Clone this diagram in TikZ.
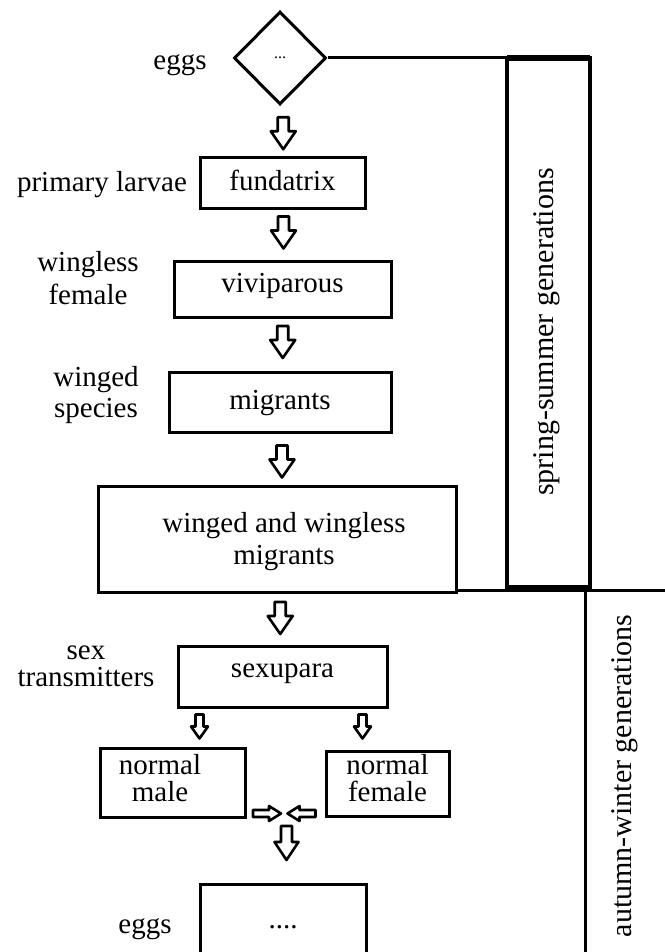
\documentclass[tikz,border=0pt]{standalone}
\usepackage{fontspec}
\setmainfont{Liberation Serif}
\usetikzlibrary{shapes.geometric,calc}
\begin{document}
\begin{tikzpicture}[x=1pt,y=-1pt,
  every node/.style={font=\fontsize{29}{33}\selectfont, inner sep=0pt},
  box/.style={draw, line width=3pt, text height=20pt, text depth=6pt},
  frame/.style={draw, line width=3pt},
  multi/.style={align=center},
  ln/.style={line width=3pt},
  vtext/.style={rotate=90, font=\fontsize{30}{33}\selectfont},
  blk/.style={draw, line width=2.6pt, line join=round, fill=white},
  pics/barrow/.style n args={4}{code={
    \draw[blk] (-#2/2,-#1/2) -- (#2/2,-#1/2) -- (#2/2,#1/2-#4) -- (#3/2,#1/2-#4)
      -- (0,#1/2) -- (-#3/2,#1/2-#4) -- (-#2/2,#1/2-#4) -- cycle;}}
]
\useasboundingbox (0,0) rectangle (664,952);

% main column
\node[diamond, draw, line width=3pt, aspect=1, minimum width=92pt, minimum height=93pt,
      font=\fontsize{16}{16}\selectfont] (dia) at (280,58) {...};
\node[box, minimum width=165pt, minimum height=50pt] (fund) at (282.5,183) {fundatrix};
\node[box, minimum width=217pt, minimum height=56pt, text depth=14pt] (vivi) at (282.5,289) {viviparous};
\node[box, minimum width=222pt, minimum height=60pt] (migr) at (280,402) {migrants};
\node[frame, minimum width=358pt, minimum height=106pt] (wide) at (277,539) {};
\node[multi, font=\fontsize{29}{32}\selectfont] (widet) at ([xshift=7pt,yshift=-3pt]wide.center) {winged and wingless\\migrants};
\node[box, minimum width=209pt, minimum height=61pt, text depth=19pt] (sexu) at (282.5,676.5) {sexupara};
\node[frame, minimum width=145pt, minimum height=69pt] (male) at (172.5,782.5) {};
\node[multi, font=\fontsize{29}{27}\selectfont] (malet) at ([xshift=-12.5pt,yshift=4pt]male.center) {normal\\male};
\node[frame, minimum width=123pt, minimum height=65pt] (fem) at (387.5,783.5) {};
\node[multi, font=\fontsize{29}{27}\selectfont] (femt) at ([yshift=5pt]fem.center) {normal\\female};
\node[box, minimum width=166pt, minimum height=82pt, text depth=14pt] (eggsb) at (283,925) {....};

% labels
\node[anchor=base] (leggs) at (180,70) {eggs};
\node[anchor=base] (lprim) at (102,192) {primary larvae};
\node[multi] (lwingless) at (88,278.5) {wingless\\female};
\node[multi, font=\fontsize{29}{31}\selectfont] (lwinged) at (96,395.5) {winged\\species};
\node[multi, font=\fontsize{29}{27}\selectfont] (lsex) at (86,666) {sex\\transmitters};
\node[anchor=base] (leggsb) at (145,933) {eggs};

% generation boxes
\coordinate (ssTL) at (507,58);
\coordinate (ssTR) at (590,58);
\coordinate (ssBR) at (590,587);
\coordinate (awTL) at (585,590);
\draw[ln] (dia.east) -- (ssTR);
\draw[line width=3.2pt] (ssTL) rectangle (ssBR);
\draw[line width=6pt] (ssTL) -- (ssTR);
\node[vtext] (sstext) at (547,332) {spring-summer generations};
\draw[ln] (wide.south east |- awTL) -- (666,590);
\draw[ln] (awTL) -- (585,960);
\node[vtext] (awtext) at (625,776) {autumn-winter generations};

% block arrows
\pic at ($(dia.south)!0.5!(fund.north)+(2,2)$) {barrow={32}{11}{25}{18}};
\pic at ($(fund.south)!0.5!(vivi.north)+(1,-2)$) {barrow={32}{11}{25}{18}};
\pic at ($(vivi.south)!0.5!(migr.north)+(1.5,-2.5)$) {barrow={32}{11}{25}{18}};
\pic at ($(migr.south)!0.5!(wide.north)+(3.5,2.5)$) {barrow={32}{11}{25}{18}};
\pic at ($(wide.south)!0.5!(sexu.north)+(0.5,-1)$) {barrow={32}{11}{25}{18}};
\pic at ($(sexu.south west)+(23,18)$) {barrow={24}{8}{17}{12}};
\pic at ($(sexu.south east)+(-26,18)$) {barrow={24}{8}{17}{12}};
\pic[rotate=90] at ($(male.south east)!0.5!(fem.south west)+(-18.5,-4.5)$) {barrow={28}{7}{15}{12}};
\pic[rotate=-90] at ($(male.south east)!0.5!(fem.south west)+(16,-4.5)$) {barrow={28}{7}{15}{12}};
\pic at ($(eggsb.north)+(3.5,-39.5)$) {barrow={34}{11}{24}{18}};
\end{tikzpicture}
\end{document}
